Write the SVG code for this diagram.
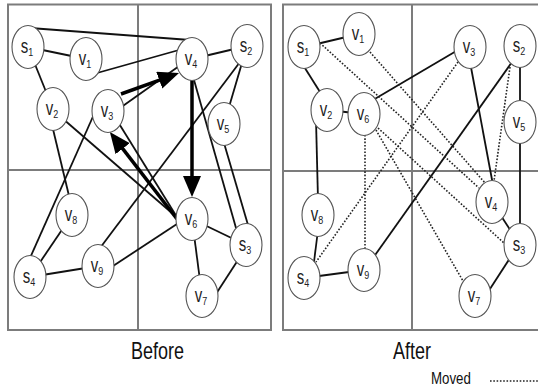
<svg xmlns="http://www.w3.org/2000/svg" width="538" height="387" viewBox="0 0 538 387">
<style>
.frame{fill:none;stroke:#7c7c7c;stroke-width:2}
.e{stroke:#111;stroke-width:1.8;fill:none}
.d{stroke:#222;stroke-width:1.6;stroke-dasharray:1.6 1.7;fill:none}
.t{stroke:#000;stroke-width:3.5;fill:none}
.n ellipse{fill:#fff;stroke:#555;stroke-width:1.1}
.n text{font-family:"Liberation Sans",Arial,sans-serif;font-size:15px;fill:#222;text-anchor:middle}
.n tspan{font-size:9px}
.cap{font-family:"Liberation Sans",Arial,sans-serif;fill:#111}
</style>
<defs>
<marker id="ah" markerUnits="userSpaceOnUse" markerWidth="21" markerHeight="18" refX="1" refY="9" orient="auto">
<path d="M0,0 L21,9 L0,18 z" fill="#000"/>
</marker>
</defs>
<rect width="538" height="387" fill="#fff"/>
<g id="frames">
<rect class="frame" x="8" y="4.5" width="263" height="325.5"/>
<line class="frame" x1="138" y1="4.5" x2="138" y2="330"/>
<line class="frame" x1="8" y1="170" x2="271" y2="170"/>
<rect class="frame" x="283" y="4.5" width="260" height="325.5"/>
<line class="frame" x1="412" y1="4.5" x2="412" y2="330"/>
<line class="frame" x1="283" y1="171" x2="540" y2="171"/>
</g>
<g id="connectors">
<!-- Before -->
<line class="e" x1="30" y1="28" x2="190" y2="40"/>
<line class="e" x1="28" y1="47" x2="86" y2="59"/>
<line class="e" x1="97" y1="73" x2="179" y2="50"/>
<line class="e" x1="192" y1="59" x2="247" y2="46"/>
<line class="e" x1="28" y1="47" x2="53" y2="109"/>
<line class="e" x1="247" y1="46" x2="224" y2="124"/>
<line class="e" x1="120" y1="108" x2="182" y2="64"/>
<line class="e" x1="194" y1="80" x2="236" y2="228"/>
<line class="e" x1="224" y1="143" x2="248" y2="225"/>
<line class="e" x1="192" y1="219" x2="246" y2="245"/>
<line class="e" x1="192" y1="219" x2="202" y2="296"/>
<line class="e" x1="214" y1="297" x2="238" y2="260"/>
<line class="e" x1="110" y1="268" x2="180" y2="222"/>
<line class="e" x1="30" y1="277" x2="98" y2="266"/>
<line class="e" x1="30" y1="277" x2="72" y2="215"/>
<line class="e" x1="52" y1="125" x2="70" y2="200"/>
<line class="e" x1="30" y1="258" x2="95" y2="112"/>
<line class="e" x1="100" y1="248" x2="240" y2="62"/>
<line class="e" x1="62" y1="118" x2="180" y2="220"/>
<line class="e" x1="118" y1="122" x2="180" y2="222"/>
<line class="t" x1="121" y1="94" x2="160.2" y2="79.8" marker-end="url(#ah)"/>
<line class="t" x1="192" y1="80" x2="192" y2="177" marker-end="url(#ah)"/>
<line class="t" x1="177" y1="219" x2="122.1" y2="147.9" marker-end="url(#ah)"/>
<!-- After -->
<line class="e" x1="304" y1="47" x2="359" y2="34"/>
<line class="e" x1="303" y1="65" x2="320" y2="92"/>
<line class="e" x1="316" y1="120" x2="318" y2="200"/>
<line class="e" x1="318" y1="230" x2="314" y2="262"/>
<line class="e" x1="304" y1="278" x2="364" y2="270"/>
<line class="e" x1="373" y1="258" x2="512" y2="62"/>
<line class="e" x1="373" y1="100" x2="458" y2="50"/>
<line class="e" x1="470" y1="62" x2="493" y2="185"/>
<line class="e" x1="520" y1="46" x2="520" y2="122"/>
<line class="e" x1="520" y1="122" x2="520" y2="245"/>
<line class="e" x1="492" y1="202" x2="520" y2="245"/>
<line class="e" x1="510" y1="258" x2="488" y2="292"/>
<line class="e" x1="327" y1="110" x2="364" y2="114"/>
<line class="d" x1="370" y1="52" x2="486" y2="184"/>
<line class="d" x1="320" y1="43" x2="479" y2="188"/>
<line class="d" x1="510" y1="67" x2="494" y2="181"/>
<line class="d" x1="458" y1="62" x2="316" y2="262"/>
<line class="d" x1="365" y1="135" x2="365" y2="249"/>
<line class="d" x1="376" y1="130" x2="463" y2="281"/>
<line class="d" x1="378" y1="128" x2="504" y2="243"/>
<line class="d" x1="490" y1="381" x2="538" y2="381"/>
</g>
<g id="b_s1" class="n"><ellipse cx="28" cy="47" rx="16" ry="21.5"/><g transform="translate(28,47) scale(1,1.3)"><text x="-1" y="4.5">s<tspan dy="2.5">1</tspan></text></g></g>
<g id="b_v1" class="n"><ellipse cx="86" cy="59" rx="16" ry="21.5"/><g transform="translate(86,59) scale(1,1.3)"><text x="-1" y="4.5">v<tspan dy="2.5">1</tspan></text></g></g>
<g id="b_v4" class="n"><ellipse cx="192" cy="59" rx="16" ry="21.5"/><g transform="translate(192,59) scale(1,1.3)"><text x="-1" y="4.5">v<tspan dy="2.5">4</tspan></text></g></g>
<g id="b_s2" class="n"><ellipse cx="247" cy="46" rx="16" ry="21.5"/><g transform="translate(247,46) scale(1,1.3)"><text x="-1" y="4.5">s<tspan dy="2.5">2</tspan></text></g></g>
<g id="b_v2" class="n"><ellipse cx="53" cy="109" rx="16" ry="21.5"/><g transform="translate(53,109) scale(1,1.3)"><text x="-1" y="4.5">v<tspan dy="2.5">2</tspan></text></g></g>
<g id="b_v3" class="n"><ellipse cx="108" cy="111" rx="16" ry="21.5"/><g transform="translate(108,111) scale(1,1.3)"><text x="-1" y="4.5">v<tspan dy="2.5">3</tspan></text></g></g>
<g id="b_v5" class="n"><ellipse cx="224" cy="124" rx="16" ry="21.5"/><g transform="translate(224,124) scale(1,1.3)"><text x="-1" y="4.5">v<tspan dy="2.5">5</tspan></text></g></g>
<g id="b_v8" class="n"><ellipse cx="72" cy="215" rx="16" ry="21.5"/><g transform="translate(72,215) scale(1,1.3)"><text x="-1" y="4.5">v<tspan dy="2.5">8</tspan></text></g></g>
<g id="b_s4" class="n"><ellipse cx="30" cy="277" rx="16" ry="21.5"/><g transform="translate(30,277) scale(1,1.3)"><text x="-1" y="4.5">s<tspan dy="2.5">4</tspan></text></g></g>
<g id="b_v9" class="n"><ellipse cx="98" cy="266" rx="16" ry="21.5"/><g transform="translate(98,266) scale(1,1.3)"><text x="-1" y="4.5">v<tspan dy="2.5">9</tspan></text></g></g>
<g id="b_v6" class="n"><ellipse cx="192" cy="219" rx="16" ry="21.5"/><g transform="translate(192,219) scale(1,1.3)"><text x="-1" y="4.5">v<tspan dy="2.5">6</tspan></text></g></g>
<g id="b_s3" class="n"><ellipse cx="246" cy="245" rx="16" ry="21.5"/><g transform="translate(246,245) scale(1,1.3)"><text x="-1" y="4.5">s<tspan dy="2.5">3</tspan></text></g></g>
<g id="b_v7" class="n"><ellipse cx="202" cy="296" rx="16" ry="21.5"/><g transform="translate(202,296) scale(1,1.3)"><text x="-1" y="4.5">v<tspan dy="2.5">7</tspan></text></g></g>
<g id="a_s1" class="n"><ellipse cx="304" cy="47" rx="16" ry="21.5"/><g transform="translate(304,47) scale(1,1.3)"><text x="-1" y="4.5">s<tspan dy="2.5">1</tspan></text></g></g>
<g id="a_v1" class="n"><ellipse cx="359" cy="34" rx="16" ry="21.5"/><g transform="translate(359,34) scale(1,1.3)"><text x="-1" y="4.5">v<tspan dy="2.5">1</tspan></text></g></g>
<g id="a_v3" class="n"><ellipse cx="470" cy="47" rx="16" ry="21.5"/><g transform="translate(470,47) scale(1,1.3)"><text x="-1" y="4.5">v<tspan dy="2.5">3</tspan></text></g></g>
<g id="a_s2" class="n"><ellipse cx="520" cy="46" rx="16" ry="21.5"/><g transform="translate(520,46) scale(1,1.3)"><text x="-1" y="4.5">s<tspan dy="2.5">2</tspan></text></g></g>
<g id="a_v2" class="n"><ellipse cx="327" cy="110" rx="16" ry="21.5"/><g transform="translate(327,110) scale(1,1.3)"><text x="-1" y="4.5">v<tspan dy="2.5">2</tspan></text></g></g>
<g id="a_v6" class="n"><ellipse cx="364" cy="114" rx="16" ry="21.5"/><g transform="translate(364,114) scale(1,1.3)"><text x="-1" y="4.5">v<tspan dy="2.5">6</tspan></text></g></g>
<g id="a_v5" class="n"><ellipse cx="520" cy="122" rx="16" ry="21.5"/><g transform="translate(520,122) scale(1,1.3)"><text x="-1" y="4.5">v<tspan dy="2.5">5</tspan></text></g></g>
<g id="a_v8" class="n"><ellipse cx="318" cy="215" rx="16" ry="21.5"/><g transform="translate(318,215) scale(1,1.3)"><text x="-1" y="4.5">v<tspan dy="2.5">8</tspan></text></g></g>
<g id="a_s4" class="n"><ellipse cx="304" cy="278" rx="16" ry="21.5"/><g transform="translate(304,278) scale(1,1.3)"><text x="-1" y="4.5">s<tspan dy="2.5">4</tspan></text></g></g>
<g id="a_v9" class="n"><ellipse cx="364" cy="270" rx="16" ry="21.5"/><g transform="translate(364,270) scale(1,1.3)"><text x="-1" y="4.5">v<tspan dy="2.5">9</tspan></text></g></g>
<g id="a_v4" class="n"><ellipse cx="492" cy="202" rx="16" ry="21.5"/><g transform="translate(492,202) scale(1,1.3)"><text x="-1" y="4.5">v<tspan dy="2.5">4</tspan></text></g></g>
<g id="a_s3" class="n"><ellipse cx="520" cy="245" rx="16" ry="21.5"/><g transform="translate(520,245) scale(1,1.3)"><text x="-1" y="4.5">s<tspan dy="2.5">3</tspan></text></g></g>
<g id="a_v7" class="n"><ellipse cx="475" cy="296" rx="16" ry="21.5"/><g transform="translate(475,296) scale(1,1.3)"><text x="-1" y="4.5">v<tspan dy="2.5">7</tspan></text></g></g>
<g id="labels">
<g transform="translate(157.5,359) scale(1,1.3)"><text class="cap" x="0" y="0" font-size="18" text-anchor="middle">Before</text></g>
<g transform="translate(412,359) scale(1,1.3)"><text class="cap" x="0" y="0" font-size="18" text-anchor="middle">After</text></g>
<g transform="translate(431,384) scale(1,1.3)"><text class="cap" x="0" y="0" font-size="13.3">Moved</text></g>
</g>
</svg>
